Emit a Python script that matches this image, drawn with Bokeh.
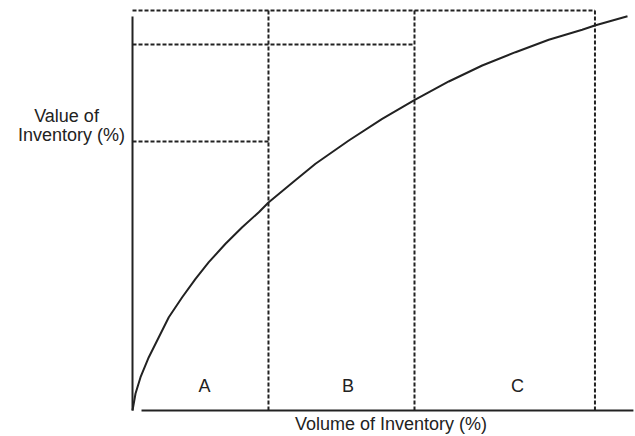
from bokeh.plotting import figure
from bokeh.models import Range1d
from bokeh.embed import file_html
from bokeh.resources import INLINE
from bokeh.core.properties import value

# Cumulative curve: volume of inventory (%) vs value of inventory (%)
volume_pct = [0, 0.61, 1.62, 3.29, 5.31, 7.33, 10.04, 12.73, 15.41, 18.79, 22.16, 25.52,
              27.47, 32.59, 36.97, 43.70, 50.44, 57.03, 63.90, 70.65, 77.37, 84.10,
              90.85, 93.39, 100]
value_pct = [0, 4.31, 8.45, 13.52, 18.59, 23.66, 28.73, 33.40, 37.61, 42.28, 46.49, 50.29,
             52.75, 58.08, 62.57, 68.48, 73.98, 78.80, 83.44, 87.50, 90.87, 94.01,
             96.55, 97.64, 100]

# ABC classes and their boundaries
classes = ["A", "B", "C"]
class_volume_limits = [27.47, 56.97, 93.43]
class_value_limits = [68.22, 92.82, 101.44]

x_title = "Volume of Inventory (%)"
y_title = ["Value of", "Inventory (%)"]

INK = "#222222"
FONT = value("Liberation Sans")

p = figure(width=635, height=436,
           x_range=Range1d(-26.67, 101.62), y_range=Range1d(-6.594, 103.98),
           x_axis_type=None, y_axis_type=None,
           toolbar_location=None, output_backend="svg", min_border=0)
p.outline_line_color = None
p.background_fill_color = "white"
p.border_fill_color = "white"

# axes drawn as lines
p.segment(x0=[0], y0=[0], x1=[0], y1=[99.9], line_color=INK, line_width=2)
p.segment(x0=[1.82], y0=[0], x1=[101.2], y1=[0], line_color=INK, line_width=2)

# dashed class boundaries
top = class_value_limits[-1]
p.segment(x0=class_volume_limits, y0=[0] * 3, x1=class_volume_limits, y1=[top] * 3,
          line_color=INK, line_width=2, line_dash="4 2")
p.segment(x0=[0] * 3, y0=class_value_limits, x1=class_volume_limits, y1=class_value_limits,
          line_color=INK, line_width=2, line_dash="4 2")

# curve
p.line(volume_pct, value_pct, line_color=INK, line_width=2)

# class labels
p.text(x=[14.55, 43.54, 77.78], y=[6.09] * 3, text=classes,
       text_font=FONT, text_font_size="18px", text_color=INK,
       text_align="center", text_baseline="alphabetic")

# axis titles
p.text(x=[-13.33, -12.32], y=[74.57, 69.75], text=y_title,
       text_font=FONT, text_font_size="18px", text_color=INK,
       text_align="center", text_baseline="alphabetic")
p.text(x=[52.22], y=[-3.55], text=[x_title],
       text_font=FONT, text_font_size="18px", text_color=INK,
       text_align="center", text_baseline="alphabetic")

open("out.html", "w").write(file_html(p, INLINE))
